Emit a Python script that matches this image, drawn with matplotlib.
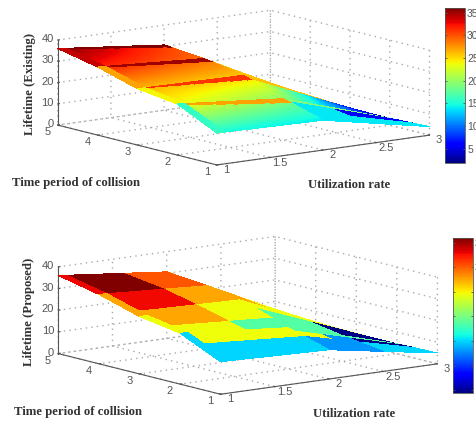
#!/usr/bin/python3
import numpy as np
import matplotlib
matplotlib.use("Agg")
import matplotlib.pyplot as plt
from matplotlib import cm
from matplotlib.colors import Normalize
from mpl_toolkits.mplot3d import proj3d

W, H = 477.0, 421.0

util_rate = [1, 2, 3]
time_period = [1, 2, 3, 4, 5]

# lifetime, one row per time period, one column per utilization rate
life_existing = [[15.0, 14.0, 4.0],
                 [24.0, 19.5, 3.3],
                 [26.5, 25.8, 3.3],
                 [32.0, 29.0, 3.3],
                 [36.0, 30.7, 3.3]]
life_proposed = [[15.0, 13.5, 5.0],
                 [23.5, 19.0, 4.6],
                 [26.5, 25.5, 4.6],
                 [32.0, 29.0, 4.6],
                 [36.0, 30.7, 4.6]]

# colour values of the flat faces in the lower plot, top row is time period 5
flat_rows = [5, 4, 3.2, 2.8, 2.4, 2.0, 1.85, 1.6, 1]
flat_cols = [1, 1.6, 2, 2.25, 2.5, 2.75, 3]
flat_proposed = [[36.0, 30.3, 27.5, 27.5, 24.6, 24.6],
                 [32.8, 27.5, 27.5, 24.6, 24.6, 24.6],
                 [27.5, 24.6, 24.6, 24.6, 24.6, 24.6],
                 [27.5, 24.6, 18.6, 18.6, 4.6, 4.6],
                 [24.6, 18.6, 18.6, 18.6, 4.6, 4.6],
                 [24.6, 24.6, 18.6, 18.6, 18.6, 18.6],
                 [24.6, 24.6, 24.6, 13.0, 4.6, 4.6],
                 [15.0, 15.0, 13.0, 13.0, 15.0, 15.0]]
edge_proposed = [33.0, 27.5, 24.6, 15.0]

z_ticks = [0, 10, 20, 30, 40]
x_ticks = [1, 1.5, 2, 2.5, 3]
x_labels = ["1", "1.5", "2", "2.5", "3"]
y_ticks = [1, 2, 3, 4, 5]
cbar_ticks = [5, 10, 15, 20, 25, 30, 35]
ridge_existing = [36, 35, 31, 27]
edge_existing = [34, 27, 24, 16]

plt.rcParams["font.family"] = "Liberation Sans"
GREY = "#555555"


def fine_surface(life):
    # mesh only subdivided so the faces can be shaded, like shading interp
    xf = np.linspace(1, 3, 81)
    yf = np.linspace(1, 5, 161)
    rows = np.array([np.interp(xf, util_rate, r) for r in life])
    zf = np.array([np.interp(yf, time_period, rows[:, j]) for j in range(len(xf))]).T
    xx, yy = np.meshgrid(xf, yf)
    return xx, yy, zf


def cell_mid(a):
    return (a[:-1, :-1] + a[1:, 1:]) / 2.0


def colors_existing(xx, yy, zz, norm):
    xm, ym = cell_mid(xx), cell_mid(yy)
    val = cell_mid(zz)
    for i, k in enumerate([5, 4, 3, 2]):
        w = 0.06 + 0.16 * (xm - 1)
        val[(ym <= k) & (ym > k - w) & (xm < 2)] = ridge_existing[i]
        val[(ym <= k) & (ym > k - 1) & (xm < 1.07)] = edge_existing[i]
    # right of x=2 only slivers show, with their own colours
    far = xm > 2
    val[far & (ym >= 2.8)] = 26
    val[far & (ym >= 2.8) & (xm > 2.85)] = 3
    val[far & (ym < 2) & (ym >= 1.85)] = 19
    val[far & (ym < 1.85)] = 14
    val[far & (ym < 1.85) & (ym > 1.4) & (xm > 2.4)] = 6
    return cm.jet(norm(val))


def colors_proposed(xx, yy, zz, norm):
    xm, ym = cell_mid(xx), cell_mid(yy)
    ci = np.clip(np.searchsorted(flat_cols, xm) - 1, 0, len(flat_cols) - 2)
    ri = np.clip(np.searchsorted(-np.array(flat_rows), -ym) - 1, 0, len(flat_rows) - 2)
    val = np.array(flat_proposed)[ri, ci]
    edge = np.array(edge_proposed)[np.clip((5 - ym).astype(int), 0, 3)]
    val[xm < 1.07] = edge[xm < 1.07]
    return cm.jet(norm(val))


def tick_text(ax, x, y, z, s, ha="center"):
    # tick labels by hand, the 3d pad moves them along the wrong direction
    px, py, _ = proj3d.proj_transform(x, y, z, ax.get_proj())
    ax.text2D(px, py, s, transform=ax.transData, ha=ha, va="center", fontsize=8, color=GREY,
              clip_on=False)


def draw_panel(fig, rect, zoom, life, colors, vmin):
    ax = fig.add_axes(rect, projection="3d", proj_type="ortho")
    ax.patch.set_alpha(0)
    ax.view_init(elev=10.8, azim=-126.8)
    ax.set_box_aspect((1, 1, 0.326), zoom=zoom)
    xx, yy, zz = fine_surface(life)
    norm = Normalize(vmin, 36)
    surf = ax.plot_surface(xx, yy, zz, facecolors=colors(xx, yy, zz, norm), rstride=1, cstride=1,
                           shade=False, linewidth=0, antialiased=False)
    surf.set_clip_on(False)
    ax.set_xlim(1, 3)
    ax.set_ylim(1, 5)
    ax.set_zlim(0, 40)
    ax.set_xticks(x_ticks)
    ax.set_yticks(y_ticks)
    ax.set_zticks(z_ticks)
    for axis in [ax.xaxis, ax.yaxis, ax.zaxis]:
        axis.set_pane_color((1, 1, 1, 0))
        axis.pane.set_edgecolor((1, 1, 1, 0))
        axis.line.set_color(GREY)
        axis._axinfo["grid"].update(color="#aaaaaa", linestyle=(0, (1, 3)), linewidth=1.0)
        axis._axinfo["tick"].update(inward_factor=0.0, outward_factor=0.1)
        axis.set_tick_params(color=GREY, label1On=False, label2On=False)
    ax.zaxis.set_ticks_position("upper")
    for v, s in zip(x_ticks, x_labels):
        tick_text(ax, v + 0.09, 1, -3.0, s)
    for v in y_ticks:
        tick_text(ax, 1, v + 0.25, -4.4, str(v))
    for v in z_ticks:
        tick_text(ax, 1, 5.1, v, str(v), ha="right")
    return norm


def draw_cbar(fig, left, top, right, bottom, norm):
    cax = fig.add_axes([left / W, 1 - bottom / H, (right - left) / W, (bottom - top) / H])
    cb = fig.colorbar(cm.ScalarMappable(norm=norm, cmap="jet"), cax=cax, ticks=cbar_ticks)
    cb.outline.set_edgecolor(GREY)
    cb.outline.set_linewidth(0.6)
    cax.tick_params(length=1.5, width=0.6, left=True, right=True, direction="in",
                    labelsize=7.5, labelcolor=GREY, color=GREY, pad=1.5)


def label(x, y, s, rot=0):
    fig.text(x / W, 1 - y / H, s, family="Liberation Serif", weight="bold", fontsize=9.2,
             color="#333333", rotation=rot, ha="center", va="center")


fig = plt.figure(figsize=(4.77, 4.21), dpi=100)
fig.patch.set_facecolor("white")

norm_top = draw_panel(fig, [0.0455, 0.566, 0.92, 0.44], 2.02, life_existing, colors_existing, 1.9)
norm_bot = draw_panel(fig, [0.0543, 0.025, 0.92, 0.44], 2.06, life_proposed, colors_proposed, 4.4)
draw_cbar(fig, 445, 8, 465, 163, norm_top)
draw_cbar(fig, 453, 238, 473, 393, norm_bot)

label(76, 183, "Time period of collision")
label(349, 185, "Utilization rate")
label(30, 84, "Lifetime (Existing)", 90)
label(78, 412, "Time period of collision")
label(354, 414, "Utilization rate")
label(29, 312, "Lifetime (Proposed)", 90)

fig.savefig("out.png", dpi=100)
